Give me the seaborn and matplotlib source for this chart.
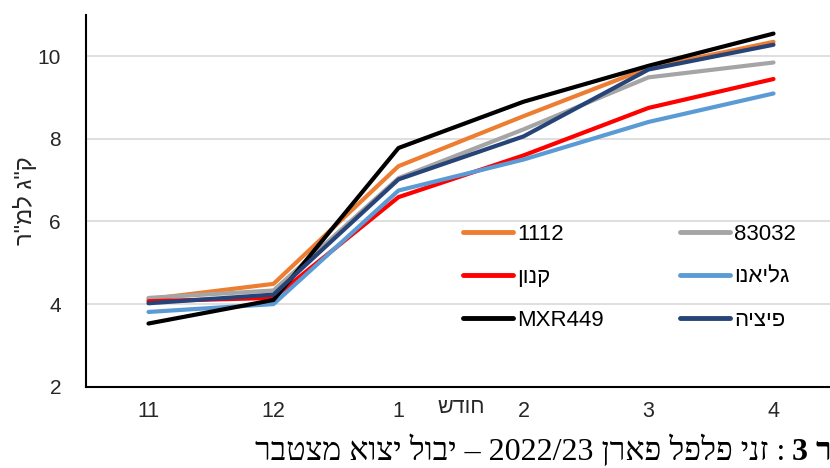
import numpy as np
import pandas as pd
import matplotlib
matplotlib.use('Agg')
import matplotlib.pyplot as plt
import seaborn as sns

# Hebrew is written right-to-left; matplotlib has no bidi, so flip it by hand
def heb(s):
    return s[::-1]

# data (kg per m2, cumulative)
months = ['11', '12', '1', '2', '3', '4']
varieties = ['1112', '83032', heb('קנון'), heb('גליאנו'), 'MXR449', heb('פיציה')]
v_1112 = [4.12, 4.49, 7.34, 8.55, 9.72, 10.35]
v_83032 = [4.15, 4.33, 7.05, 8.23, 9.49, 9.85]
v_kanon = [4.07, 4.15, 6.59, 7.60, 8.75, 9.45]
v_galiano = [3.81, 4.00, 6.75, 7.50, 8.41, 9.10]
v_mxr449 = [3.53, 4.10, 7.78, 8.90, 9.77, 10.55]
v_pizia = [4.02, 4.23, 7.02, 8.06, 9.68, 10.28]
colors = ['#ED7D31', '#A5A5A5', '#FF0000', '#5B9BD5', '#000000', '#264478']

series = [v_1112, v_83032, v_kanon, v_galiano, v_mxr449, v_pizia]
df = pd.DataFrame({
    'month': months * len(varieties),
    'value': np.concatenate(series),
    'variety': np.repeat(varieties, len(months)),
})

sns.set_style('white')
plt.rcParams['font.family'] = ['Liberation Sans', 'DejaVu Sans']
txt_col = '#262626'

fig = plt.figure(figsize=(8.3, 4.68), dpi=100)
ax = fig.add_axes([86/830, 1 - 386.7/468, 750/830, (386.7 - 15)/468])

sns.lineplot(data=df, x='month', y='value', hue='variety', hue_order=varieties,
             palette=colors, sort=False, lw=3, ax=ax, legend=True)

ax.set_xlim(-0.5, 5.5)
ax.set_ylim(2, 11)
ax.set_yticks([2, 4, 6, 8, 10])
for yv in [4, 6, 8, 10]:
    ax.axhline(yv, color='#D9D9D9', lw=1.2, zorder=0)

# tick marks sit between the categories, labels at the centres
ax.set_xticks(range(len(months)))
ax.set_xticklabels(months)
ax.set_xticks(np.arange(0.5, 5, 1), minor=True)
ax.tick_params(axis='x', which='major', length=0, pad=10, labelsize=15.5, labelcolor=txt_col)
ax.tick_params(axis='x', which='minor', length=7, width=1.5, direction='out', color='black')
ax.tick_params(axis='y', length=7, width=1.5, direction='out', color='black',
               pad=11, labelsize=15, labelcolor=txt_col)

for side in ['top', 'right']:
    ax.spines[side].set_visible(False)
ax.spines['left'].set_color('black')
ax.spines['left'].set_linewidth(1.5)
ax.spines['bottom'].set_color('black')
ax.spines['bottom'].set_linewidth(1.5)

ax.set_xlabel('')
ax.set_ylabel(heb('ק"ג למ"ר'), fontsize=17, color=txt_col)
ax.yaxis.set_label_coords(-49/750, 0.5)

# axis title sits on the tick-label row
ax.text((461 - 86)/750, -10.5/371.7, heb('חודש'), transform=ax.transAxes,
        ha='center', va='top', fontsize=15.5, color=txt_col)

# legend filled row by row, as in the source
handles, labels = ax.get_legend_handles_labels()
for h in handles:
    h.set_linewidth(3.5)
order = [0, 2, 4, 1, 3, 5]
ax.legend([handles[i] for i in order], [labels[i] for i in order], ncol=2,
          frameon=False, fontsize=16, loc='upper left',
          bbox_to_anchor=(463/830, 1 - 224/468), bbox_transform=fig.transFigure,
          borderpad=0, borderaxespad=0, handlelength=2.25, handletextpad=0.2,
          columnspacing=3.4, labelspacing=0.98, labelcolor='black')

# caption, right-to-left; the source crop cuts its start ("איור") at the right edge
cap = fig.text(255/830, 8/468, 'רבטצמ אוצי לובי – 2022/23 ןראפ לפלפ ינז :',
               ha='left', va='baseline', fontsize=23, color='black',
               family=['Liberation Serif', 'DejaVu Sans'])
fig.canvas.draw()
bb = cap.get_window_extent()
fig.text(bb.x1 / fig.bbox.width + 7/830, 8/468, '3 רויא', ha='left', va='baseline',
         fontsize=23, fontweight='bold', color='black',
         family=['Liberation Serif', 'DejaVu Sans'])

fig.savefig('out.png', dpi=100)
